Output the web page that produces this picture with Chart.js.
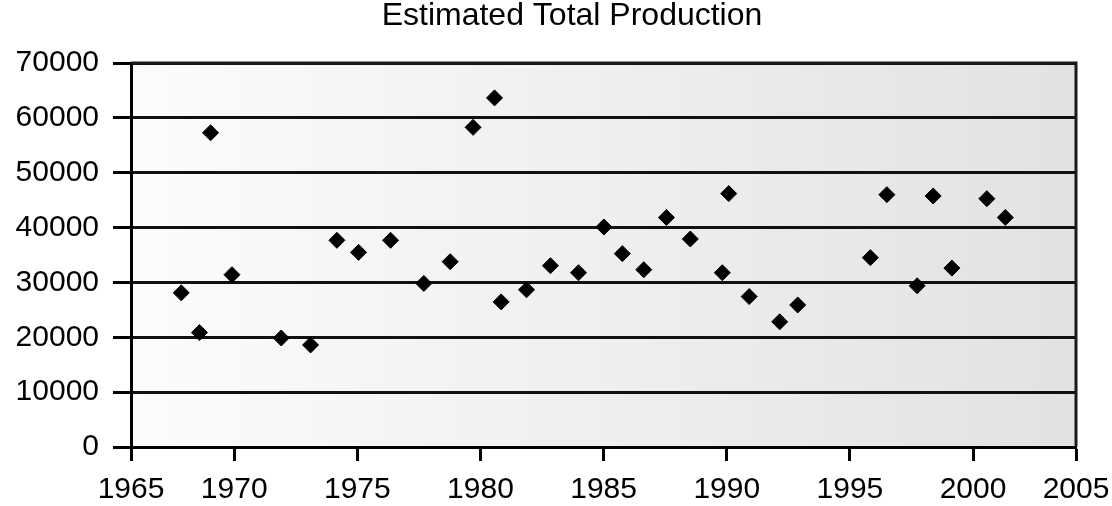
<!DOCTYPE html>
<html>
<head>
<meta charset="utf-8">
<title>Estimated Total Production</title>
<script src="https://cdn.jsdelivr.net/npm/chart.js@4.4.1/dist/chart.umd.min.js"></script>
<style>
    html, body { margin: 0; padding: 0; background: #fff; }
    #chart { display: block; }
</style>
</head>
<body>
<canvas id="chart" width="1112" height="506"></canvas>
<script>
// data
const years = [
    1967.85, 1968.59, 1969.04, 1969.91, 1971.91, 1973.10, 1974.17, 1975.05,
    1976.35, 1977.70, 1978.77, 1979.70, 1980.57, 1980.84, 1981.87, 1982.84,
    1983.98, 1985.01, 1985.76, 1986.63, 1987.55, 1988.52, 1989.82, 1990.08,
    1990.91, 1992.15, 1992.88, 1995.83, 1996.50, 1997.73, 1998.38, 1999.14,
    2000.56, 2001.31
];
const production = [
    28100, 20850, 57280, 31410, 19870, 18600, 37680, 35480,
    37680, 29820, 33780, 58270, 63640, 26450, 28660, 33050,
    31770, 40110, 35250, 32320, 41840, 37920, 31770, 46190,
    27420, 22820, 25890, 34520, 46000, 29390, 45760, 32610,
    45270, 41840
];

// the x axis ends are labelled 1965 / 2005 but sit a bit inside those years
const xTickValues = [1965.81, 1970, 1975, 1980, 1985, 1990, 1995, 2000, 2004.18];
const xTickLabels = ['1965', '1970', '1975', '1980', '1985', '1990', '1995', '2000', '2005'];
const yMin = 0;
const yMax = 70000;
const yStep = 10000;

const FONT = "'Liberation Sans', Arial, sans-serif";
const TITLE_CENTER = 572;

// grey gradient behind the plot + right border
const plotBackground = {
    id: 'plotBackground',
    beforeDraw(chart) {
        const { ctx, chartArea: a } = chart;
        const g = ctx.createLinearGradient(a.left, 0, a.right, 0);
        g.addColorStop(0, '#fcfcfc');
        g.addColorStop(1, '#e2e2e2');
        ctx.save();
        ctx.fillStyle = g;
        ctx.fillRect(a.left, a.top, a.right - a.left, a.bottom - a.top);
        ctx.restore();
    },
    afterDraw(chart) {
        const { ctx, chartArea: a } = chart;
        ctx.save();
        ctx.strokeStyle = '#1a1a1a';
        ctx.lineWidth = 3;
        ctx.beginPath();
        ctx.moveTo(a.left, a.top);
        ctx.lineTo(a.right, a.top);
        ctx.lineTo(a.right, a.bottom);
        ctx.stroke();
        ctx.restore();
    }
};

// the title in the original sits a little right of the canvas centre
const titleShift = {
    id: 'titleShift',
    afterLayout(chart) {
        const t = chart.titleBlock;
        if (!t) return;
        const dx = TITLE_CENTER - (t.left + t.right) / 2;
        t.left += dx;
        t.right += dx;
    }
};

new Chart(document.getElementById('chart'), {
    type: 'scatter',
    data: {
        datasets: [{
            data: years.map((y, i) => ({ x: y, y: production[i] })),
            pointStyle: 'rectRot',
            pointRadius: 8,
            pointBorderWidth: 1,
            backgroundColor: '#000',
            borderColor: '#000'
        }]
    },
    options: {
        responsive: false,
        animation: false,
        layout: { padding: { left: 12, right: 36, top: 0, bottom: 0 } },
        plugins: {
            legend: { display: false },
            tooltip: { enabled: false },
            title: {
                display: true,
                text: 'Estimated Total Production',
                color: '#000',
                font: { family: FONT, size: 32, weight: 'normal', lineHeight: 1 },
                padding: { top: 0, bottom: 31 }
            }
        },
        scales: {
            x: {
                type: 'linear',
                min: xTickValues[0],
                max: xTickValues[xTickValues.length - 1],
                afterBuildTicks: axis => {
                    axis.ticks = xTickValues.map(v => ({ value: v }));
                },
                afterFit: scale => {
                    scale.height = 59;
                    scale.paddingLeft = 0;
                    scale.paddingRight = 0;
                },
                ticks: {
                    autoSkip: false,
                    maxRotation: 0,
                    padding: 11,
                    color: '#000',
                    font: { family: FONT, size: 30 },
                    callback: (value, index) => xTickLabels[index]
                },
                grid: {
                    drawOnChartArea: false,
                    drawTicks: true,
                    tickLength: 14,
                    tickColor: '#000',
                    tickWidth: 3
                },
                border: { display: true, color: '#000', width: 3 }
            },
            y: {
                min: yMin,
                max: yMax,
                afterFit: scale => { scale.width = 119; },
                ticks: {
                    stepSize: yStep,
                    padding: 14,
                    color: '#000',
                    font: { family: FONT, size: 30 },
                    callback: value => String(value)
                },
                grid: {
                    color: '#111',
                    lineWidth: 3,
                    drawTicks: true,
                    tickLength: 18,
                    tickColor: '#000',
                    tickWidth: 3
                },
                border: { display: true, color: '#000', width: 3 }
            }
        }
    },
    plugins: [plotBackground, titleShift]
});
</script>
</body>
</html>
